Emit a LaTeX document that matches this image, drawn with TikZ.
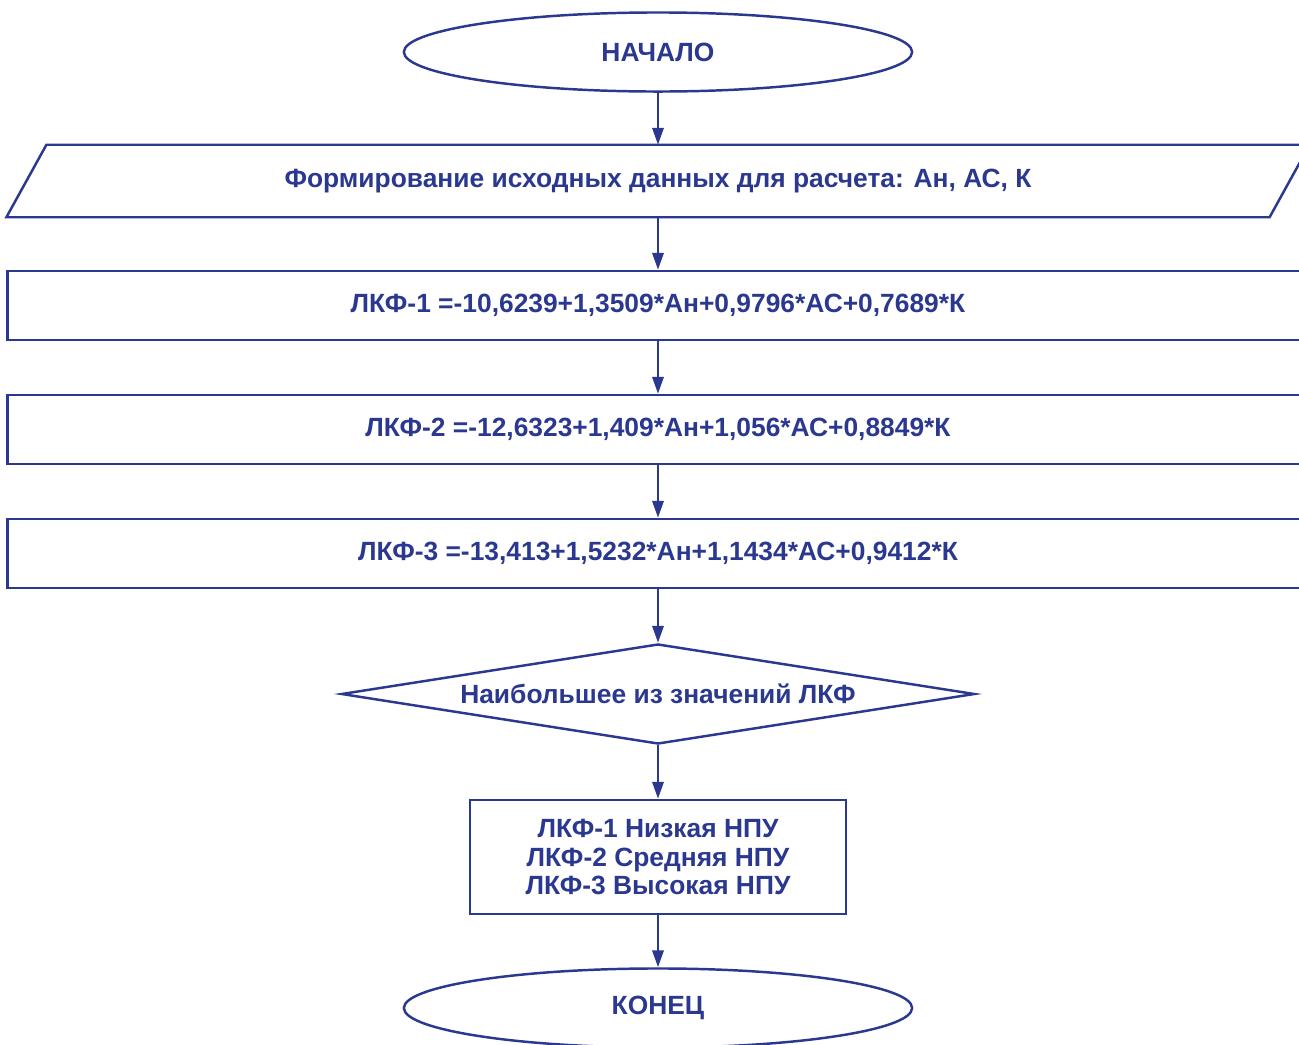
\documentclass[tikz,border=0pt]{standalone}
\usepackage{fontspec}
\setmainfont{Liberation Sans}
\usetikzlibrary{arrows.meta,shapes.geometric}
\definecolor{schemeblue}{RGB}{43,56,143}

\begin{document}
\begin{tikzpicture}[x=0.01cm,y=-0.01cm,line width=0.7pt,color=schemeblue,
    font=\fontsize{7.5}{8.2}\selectfont\bfseries,
    term/.style={draw,ellipse,minimum width=5.08cm,minimum height=0.79cm,inner sep=0pt},
    databox/.style={rectangle,minimum width=12.6cm,minimum height=0.7cm,inner sep=0pt},
    calcbox/.style={draw,rectangle,minimum width=13cm,minimum height=0.69cm,inner sep=0pt},
    choice/.style={draw,diamond,aspect=6.33,minimum width=6.33cm,minimum height=1cm,inner sep=0pt},
    resultbox/.style={draw,rectangle,align=center,minimum width=3.76cm,minimum height=1.14cm},
    flow/.style={-{Triangle[length=4.8pt,width=3.2pt]}}]
  \useasboundingbox (0,0) rectangle (1299,1045);
  % Terminals and steps
  \node[term] (start) at (658,52) {НАЧАЛО};
  \node[databox] (input) at (658,181) {Формирование исходных данных для расчета: Ан, АС, К};
  \draw ([xshift=-0.2cm]input.south west) -- ([xshift=0.2cm]input.north west)
    -- ([xshift=0.2cm]input.north east) -- ([xshift=-0.2cm]input.south east) -- cycle;
  \node[calcbox] (lkf1) at (658,305.5) {ЛКФ-1 =-10,6239+1,3509*Ан+0,9796*АС+0,7689*К};
  \node[calcbox] (lkf2) at (658,429.5) {ЛКФ-2 =-12,6323+1,409*Ан+1,056*АС+0,8849*К};
  \node[calcbox] (lkf3) at (658,553.5) {ЛКФ-3 =-13,413+1,5232*Ан+1,1434*АС+0,9412*К};
  % Decision
  \node[choice] (max) at (658,694) {Наибольшее из значений ЛКФ};
  \node[resultbox] (class) at (658,857) {ЛКФ-1 Низкая НПУ\\ЛКФ-2 Средняя НПУ\\ЛКФ-3 Высокая НПУ};
  \node[term] (end) at (658,1008) {КОНЕЦ};
  % Connectors
  \foreach \a/\b in {start/input,input/lkf1,lkf1/lkf2,lkf2/lkf3,lkf3/max,max/class,class/end}{
    \draw[flow] (\a) -- (\b);
  }
\end{tikzpicture}
\end{document}
